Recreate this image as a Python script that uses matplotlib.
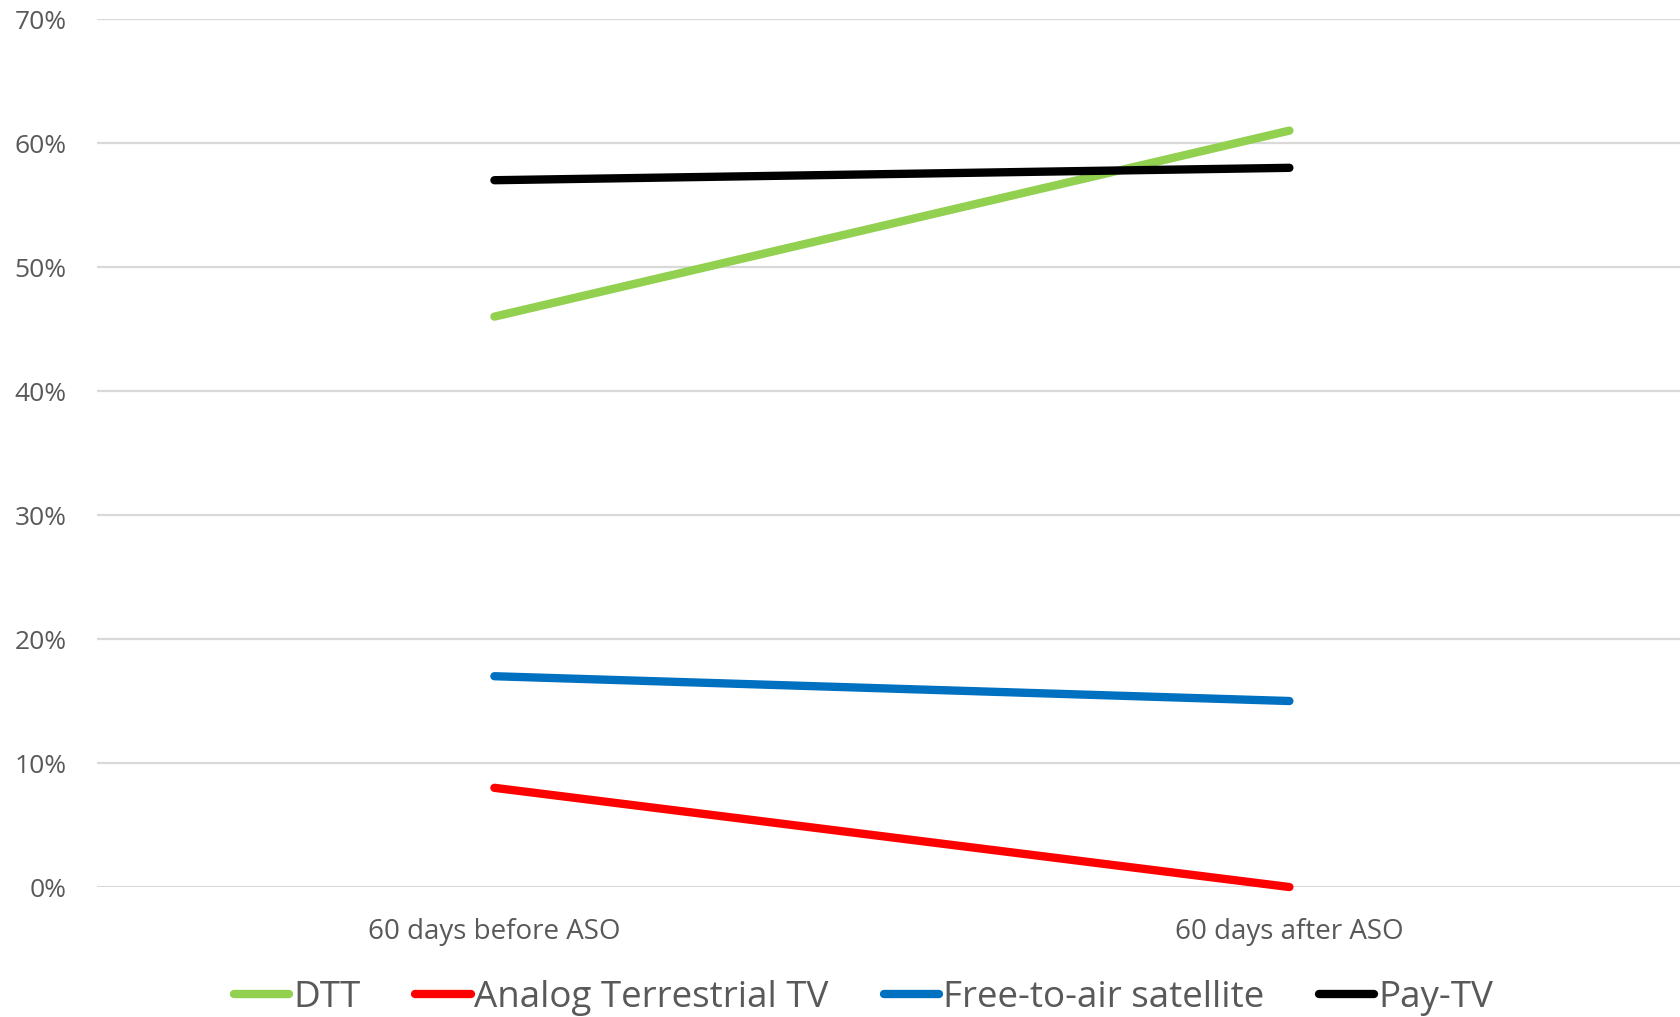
import numpy as np
import matplotlib.pyplot as plt

categories = ["60 days before ASO", "60 days after ASO"]
series_names = ["DTT", "Analog Terrestrial TV", "Free-to-air satellite", "Pay-TV"]
dtt = [46, 61]
analog = [8, 0]
fta_sat = [17, 15]
pay_tv = [57, 58]
colors = ["#92D050", "#FF0000", "#0070C0", "#000000"]

fig = plt.figure(figsize=(16.8, 10.17), dpi=100)
ax = fig.add_axes([0.0577, 0.1278, 0.9464, 0.8535])

x = np.arange(len(categories))
for name, vals, c in zip(series_names, [dtt, analog, fta_sat, pay_tv], colors):
    ax.plot(x, vals, color=c, lw=6, solid_capstyle="round", label=name, clip_on=False)

ax.set_xlim(-0.5, 1.5)
ax.set_ylim(0, 70)
ax.set_yticks(range(0, 71, 10))
ax.set_yticklabels([f"{v}%" for v in range(0, 71, 10)])
ax.set_xticks(x)
ax.set_xticklabels(categories)
ax.yaxis.grid(True, color="#D9D9D9", lw=1.6)
ax.set_axisbelow(True)
for s in ax.spines.values():
    s.set_visible(False)
ax.tick_params(axis="both", length=0, colors="#595959", labelsize=19)
ax.tick_params(axis="x", labelsize=20, pad=22)
ax.tick_params(axis="y", pad=22)
for t in ax.get_xticklabels() + ax.get_yticklabels():
    t.set_fontfamily("Open Sans")

leg = fig.legend(loc="center", bbox_to_anchor=(0.514, 0.019), ncol=4, frameon=False,
                 prop={"family": "Open Sans", "size": 26.5},
                 handlelength=1.5, handletextpad=0.1, columnspacing=1.5)
for t in leg.get_texts():
    t.set_color("#595959")

fig.savefig("out.png", dpi=100)
